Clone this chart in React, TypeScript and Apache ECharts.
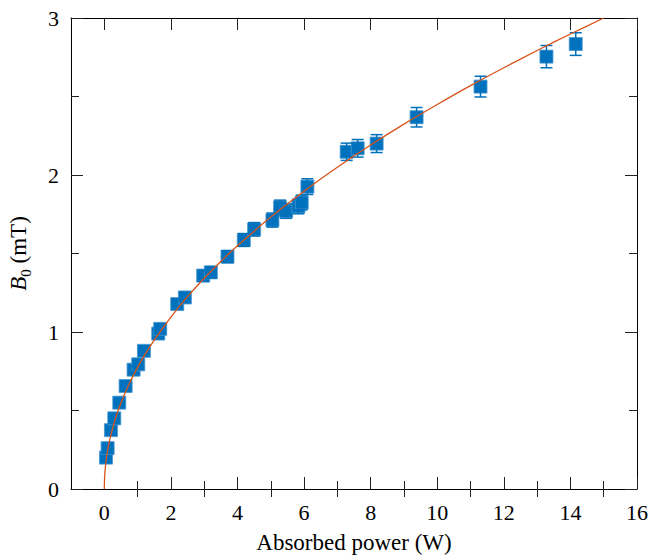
import React, { useEffect, useRef } from "react";
import * as echarts from "echarts";

// Measured data (absorbed power in W, B0 in mT, error in mT)
const powerW = [0.05, 0.1, 0.2, 0.3, 0.45, 0.64, 0.88, 1.02, 1.19, 1.62, 1.68, 2.19, 2.42, 2.97, 3.2, 3.7, 4.19, 4.5, 5.05, 5.28, 5.46, 5.83, 5.93, 6.1, 7.28, 7.61, 8.18, 9.38, 11.3, 13.28, 14.16];
const fieldMT = [0.2, 0.26, 0.375, 0.45, 0.55, 0.656, 0.76, 0.794, 0.88, 0.99, 1.02, 1.178, 1.22, 1.359, 1.38, 1.48, 1.586, 1.654, 1.713, 1.794, 1.77, 1.8, 1.825, 1.926, 2.148, 2.17, 2.2, 2.368, 2.563, 2.754, 2.834];
const fieldErr = [0.01, 0.01, 0.01, 0.012, 0.015, 0.018, 0.02, 0.02, 0.022, 0.025, 0.026, 0.03, 0.031, 0.035, 0.036, 0.038, 0.041, 0.043, 0.045, 0.046, 0.046, 0.047, 0.047, 0.05, 0.055, 0.056, 0.057, 0.062, 0.066, 0.071, 0.072];

// Fit curve
const fitX = [0, 0.01, 0.03, 0.06, 0.1, 0.15, 0.2, 0.3, 0.4, 0.5, 0.7, 0.9, 1.2, 1.5, 2, 2.5, 3, 3.5, 4, 5, 6, 7, 8, 9, 10, 11, 12, 13, 14, 15];
const fitY = [0, 0.078, 0.134, 0.19, 0.245, 0.3, 0.346, 0.424, 0.49, 0.548, 0.648, 0.735, 0.849, 0.949, 1.095, 1.225, 1.342, 1.449, 1.549, 1.732, 1.897, 2.049, 2.191, 2.324, 2.449, 2.569, 2.683, 2.793, 2.898, 3.0];

// Tick positions
const xMajorTicks = [0, 2, 4, 6, 8, 10, 12, 14, 16];
const xMinorTicks = [1, 3, 5, 7, 9, 11, 13, 15];

const BLUE = "#0072BD";
const ORANGE = "#D95319";
const FONT = "Liberation Serif";

export default function App() {
  const ref = useRef<HTMLDivElement>(null);
  useEffect(() => {
    document.body.style.margin = "0";
    if (!ref.current) return;
    const chart = echarts.init(ref.current, null, { renderer: "svg" });
    const pts = powerW.map((p, i) => [p, fieldMT[i], fieldErr[i]]);
    const fit = fitX.map((x, i) => [x, fitY[i]]);
    const tickStyle = { color: "#222", width: 1 };
    const baseX = {
      type: "value",
      min: -1,
      max: 16,
      splitLine: { show: false },
    };
    chart.setOption({
      animation: false,
      grid: { left: 71, right: 12, top: 18, bottom: 66, outerBoundsMode: "none" },
      xAxis: [
        {
          ...baseX,
          position: "bottom",
          axisLine: { show: true, onZero: false, lineStyle: { color: "#000", width: 1 } },
          axisTick: { show: true, inside: true, length: 12, lineStyle: tickStyle, customValues: xMajorTicks },
          axisLabel: { show: true, customValues: xMajorTicks, fontFamily: FONT, fontSize: 22, color: "#000", margin: 12 },
          name: "Absorbed power (W)",
          nameLocation: "middle",
          nameGap: 42,
          nameTextStyle: { fontFamily: FONT, fontSize: 23, color: "#000" },
        },
        {
          ...baseX,
          position: "bottom",
          axisLine: { show: false },
          axisTick: { show: true, inside: true, length: 8, lineStyle: tickStyle, customValues: xMinorTicks },
          axisLabel: { show: false },
        },
        {
          ...baseX,
          position: "top",
          axisLine: { show: true, onZero: false, lineStyle: { color: "#000", width: 1 } },
          axisTick: { show: true, inside: true, length: 12, lineStyle: tickStyle, customValues: xMajorTicks },
          axisLabel: { show: false },
        },
        {
          ...baseX,
          position: "top",
          axisLine: { show: false },
          axisTick: { show: true, inside: true, length: 8, lineStyle: tickStyle, customValues: xMinorTicks },
          axisLabel: { show: false },
        },
      ],
      yAxis: [
        {
          type: "value",
          min: 0,
          max: 3,
          interval: 1,
          position: "left",
          splitLine: { show: false },
          axisLine: { show: true, onZero: false, lineStyle: { color: "#000", width: 1 } },
          axisTick: { show: true, inside: true, length: 12, lineStyle: tickStyle },
          minorTick: { show: true, splitNumber: 2, length: 8, lineStyle: tickStyle },
          axisLabel: { fontFamily: FONT, fontSize: 22, color: "#000", margin: 12 },
          name: "{i|B}{s|0}{n| (mT)}",
          nameLocation: "middle",
          nameGap: 38,
          nameRotate: 90,
          nameTextStyle: {
            fontFamily: FONT,
            color: "#000",
            rich: {
              i: { fontFamily: FONT, fontStyle: "italic", fontSize: 23, color: "#000", lineHeight: 30, verticalAlign: "middle" },
              s: { fontFamily: FONT, fontSize: 15, color: "#000", lineHeight: 12, verticalAlign: "bottom" },
              n: { fontFamily: FONT, fontSize: 23, color: "#000", lineHeight: 30, verticalAlign: "middle" },
            },
          },
        },
        {
          type: "value",
          min: 0,
          max: 3,
          interval: 1,
          position: "right",
          splitLine: { show: false },
          axisLine: { show: true, onZero: false, lineStyle: { color: "#000", width: 1 } },
          axisTick: { show: true, inside: true, length: 12, lineStyle: tickStyle },
          minorTick: { show: true, splitNumber: 2, length: 8, lineStyle: tickStyle },
          axisLabel: { show: false },
        },
      ],
      series: [
        {
          type: "scatter",
          xAxisIndex: 0,
          yAxisIndex: 0,
          data: pts.map((d) => [d[0], d[1]]),
          symbol: "rect",
          symbolSize: 13,
          itemStyle: { color: BLUE, borderColor: "rgba(70,150,210,0.8)", borderWidth: 1, opacity: 1 },
          z: 2,
        },
        {
          type: "custom",
          xAxisIndex: 0,
          yAxisIndex: 0,
          data: pts,
          z: 3,
          renderItem: (params: any, api: any) => {
            const x = api.value(0);
            const y = api.value(1);
            const e = api.value(2);
            const top = api.coord([x, y + e]);
            const bot = api.coord([x, y - e]);
            const hw = 6;
            const st = { stroke: BLUE, lineWidth: 1.5 };
            return {
              type: "group",
              children: [
                { type: "line", shape: { x1: top[0], y1: top[1], x2: bot[0], y2: bot[1] }, style: st },
                { type: "line", shape: { x1: top[0] - hw, y1: top[1], x2: top[0] + hw, y2: top[1] }, style: st },
                { type: "line", shape: { x1: bot[0] - hw, y1: bot[1], x2: bot[0] + hw, y2: bot[1] }, style: st },
              ],
            };
          },
        },
        {
          type: "line",
          xAxisIndex: 0,
          yAxisIndex: 0,
          data: fit,
          showSymbol: false,
          symbol: "none",
          smooth: 0.3,
          clip: true,
          lineStyle: { color: ORANGE, width: 1.3 },
          z: 4,
        },
      ],
    });
    return () => chart.dispose();
  }, []);
  return <div ref={ref} style={{ width: 649, height: 555 }} />;
}
